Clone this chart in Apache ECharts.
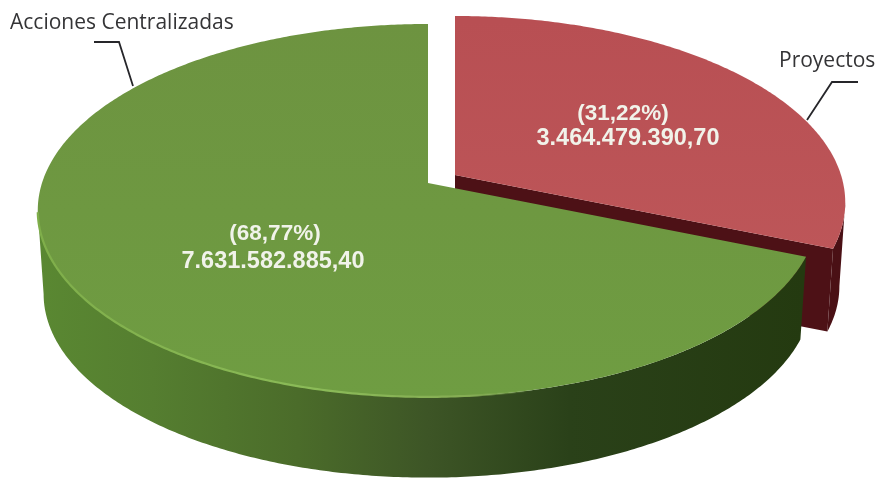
<!DOCTYPE html>
<html>
<head>
<meta charset="utf-8">
<style>
  html, body { margin: 0; padding: 0; background: #fff; }
  #main { width: 878px; height: 478px; }
</style>
<script src="https://cdn.jsdelivr.net/npm/echarts@6/dist/echarts.min.js"></script>
</head>
<body>
<div id="main"></div>
<script>
// datos
const categories = ['Proyectos', 'Acciones Centralizadas'];
const amounts = [3464479390.70, 7631582885.40];
const percentLabels = ['(31,22%)', '(68,77%)'];
const amountLabels = ['3.464.479.390,70', '7.631.582.885,40'];

// proyeccion de la torta (perspectiva simple)
const RX = 386, RY = 182.4, PERSP = 0.147, DEPTH = 84, BASE_SCALE = 0.985;
const EXTREME = Math.acos(-PERSP); // angulo del punto mas ancho del disco
const total = amounts.reduce((a, b) => a + b, 0);

// estilos de cada porcion
const sliceStyles = [
  {
    apex: [455, 175],
    top: ['#b84f53', '#c05a5c'],
    wall: [[0, '#5a1519'], [1, '#4a1015']],
    inner: '#4d1116',
    wallFrom: EXTREME,
    percentPos: [623, 114],
    amountPos: [628, 139]
  },
  {
    apex: [428, 183],
    top: ['#6d9340', '#6f9d42'],
    wall: [[0, '#5a8832'], [0.15, '#557e30'], [0.34, '#4b6c2a'], [0.51, '#3d5526'], [0.695, '#2a4119'], [1, '#243a10']],
    inner: '#243a10',
    wallTo: Math.PI * 2 - EXTREME,
    percentPos: [275, 234],
    amountPos: [273, 262]
  }
];

// angulo 0 arriba, sentido horario
function project(apex, theta, scale, drop) {
  const s = Math.sin(theta), d = -Math.cos(theta);
  const w = 1 - PERSP * d;
  return [apex[0] + RX * s / w * scale, apex[1] + RY * d / w * scale + drop];
}

function arc(apex, from, to, scale, drop) {
  const pts = [];
  const n = Math.max(2, Math.ceil(Math.abs(to - from) / 0.01));
  for (let i = 0; i <= n; i++) {
    pts.push(project(apex, from + (to - from) * i / n, scale, drop));
  }
  return pts;
}

function linear(x0, y0, x1, y1, stops) {
  return new echarts.graphic.LinearGradient(x0, y0, x1, y1,
    stops.map(s => ({ offset: s[0], color: s[1] })), true);
}

function labelText(pos, text, size) {
  return {
    type: 'text',
    style: {
      x: pos[0], y: pos[1], text: text,
      fill: '#f1f3ea', font: 'bold ' + size + 'px "Liberation Sans"', align: 'center', verticalAlign: 'middle'
    }
  };
}

function renderSlice(params, api) {
  const i = params.dataIndex;
  const st = sliceStyles[i];
  let before = 0;
  for (let k = 0; k < i; k++) before += amounts[k];
  const from = before / total * Math.PI * 2;
  const to = (before + api.value(0)) / total * Math.PI * 2;
  const a = st.apex;
  const children = [];

  // cara interna (borde final de la porcion)
  const endTop = project(a, to, 1, 0), endBase = project(a, to, BASE_SCALE, DEPTH);
  children.push({
    type: 'polygon',
    shape: { points: [a, endTop, endBase, [a[0], a[1] + DEPTH]] },
    style: { fill: st.inner }
  });
  // pared exterior, solo la parte visible de frente
  const wFrom = st.wallFrom !== undefined ? st.wallFrom : from;
  const wTo = st.wallTo !== undefined ? st.wallTo : to;
  children.push({
    type: 'polygon',
    shape: { points: arc(a, wFrom, wTo, 1, 0).concat(arc(a, wTo, wFrom, BASE_SCALE, DEPTH)) },
    style: { fill: linear(37, 0, 804, 0, st.wall) }
  });
  // cara superior
  children.push({
    type: 'polygon',
    shape: { points: [a].concat(arc(a, from, to, 1, 0)) },
    style: { fill: linear(0, 20, 0, 400, [[0, st.top[0]], [1, st.top[1]]]) }
  });
  // brillo del borde delantero
  if (i === 1) {
    children.push({
      type: 'polyline',
      shape: { points: arc(a, Math.PI * 1.45, Math.PI * 0.93, 1, 0) },
      style: {
        fill: 'none', lineWidth: 2.2,
        stroke: linear(37, 0, 540, 0, [[0, '#7fae4a'], [0.55, '#8bbb58'], [0.85, '#86ad54'], [1, 'rgba(125,170,75,0)']])
      }
    });
  }
  // etiquetas
  children.push(labelText(st.percentPos, percentLabels[i], 22.5));
  children.push(labelText(st.amountPos, amountLabels[i], 23.5));
  return { type: 'group', children };
}

const chart = echarts.init(document.getElementById('main'));
chart.setOption({
  animation: false,
  backgroundColor: '#ffffff',
  series: [{
    type: 'custom',
    coordinateSystem: 'none',
    silent: true,
    renderItem: renderSlice,
    data: amounts.map((v, i) => ({ name: categories[i], value: [v] }))
  }],
  graphic: [
    {
      type: 'polyline',
      shape: { points: [[94, 42], [119, 42], [133, 86]] },
      style: { fill: 'none', stroke: '#26262a', lineWidth: 1.8 }
    },
    {
      type: 'polyline',
      shape: { points: [[858, 82], [832, 82], [807, 120]] },
      style: { fill: 'none', stroke: '#26262a', lineWidth: 1.8 }
    },
    {
      type: 'text', x: 10, y: 13,
      style: { text: categories[1], fill: '#343436', font: '21px "Open Sans"' }
    },
    {
      type: 'text', x: 779, y: 51,
      style: { text: categories[0], fill: '#343436', font: '21px "Open Sans"' }
    }
  ]
});
</script>
</body>
</html>
